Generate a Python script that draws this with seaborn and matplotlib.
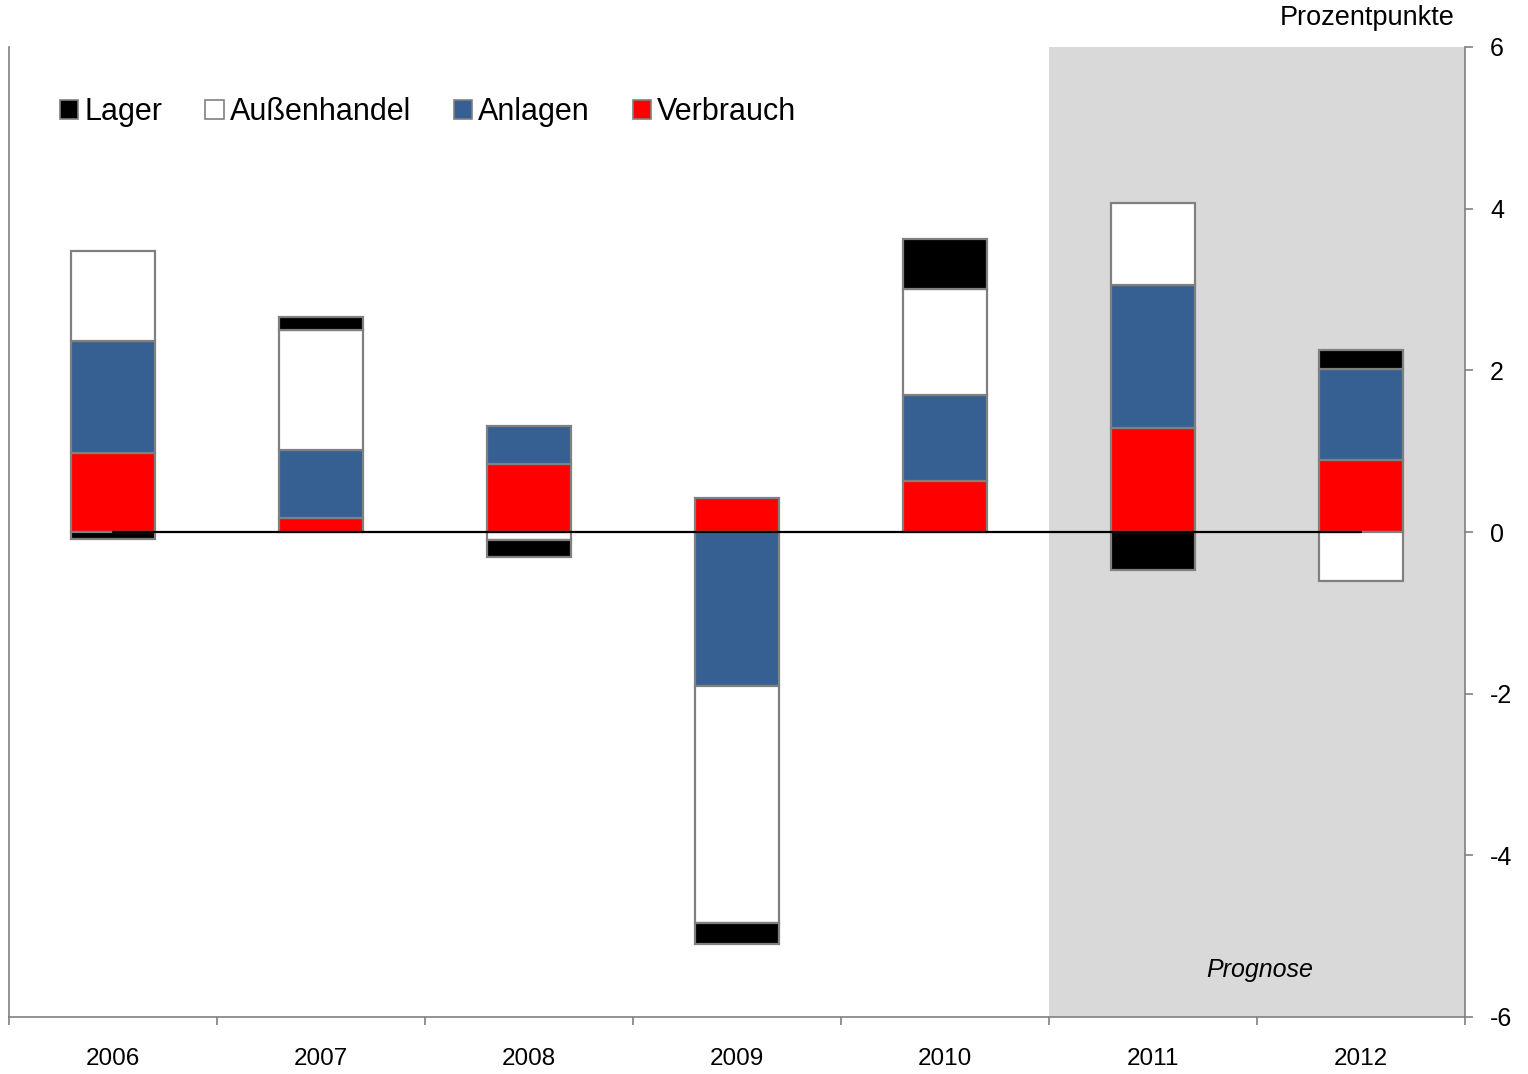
import numpy as np
import pandas as pd
import matplotlib
matplotlib.use("Agg")
import matplotlib.pyplot as plt
import seaborn as sns
from matplotlib.patches import Patch

years = ["2006", "2007", "2008", "2009", "2010", "2011", "2012"]
verbrauch = [0.98, 0.17, 0.84, 0.42, 0.63, 1.29, 0.89]
anlagen = [1.38, 0.84, 0.47, -1.91, 1.06, 1.77, 1.13]
aussenhandel = [1.12, 1.49, -0.10, -2.93, 1.32, 1.01, -0.61]
lager = [-0.09, 0.16, -0.21, -0.26, 0.62, -0.47, 0.23]

series_names = ["Verbrauch", "Anlagen", "Außenhandel", "Lager"]
series_vals = [verbrauch, anlagen, aussenhandel, lager]
colors = {"Verbrauch": "#FF0000", "Anlagen": "#366092", "Außenhandel": "#FFFFFF", "Lager": "#000000"}

yticks = [-6, -4, -2, 0, 2, 4, 6]

sns.set_theme(style="white")
plt.rcParams["font.family"] = ["Liberation Sans", "DejaVu Sans"]
plt.rcParams["text.color"] = "black"
plt.rcParams["xtick.color"] = "black"
plt.rcParams["ytick.color"] = "black"

fig = plt.figure(figsize=(15.28, 10.74), dpi=100)
ax = fig.add_axes([9 / 1528, 57 / 1074, (1465 - 9) / 1528, 970 / 1074])

ax.axvspan(4.5, 6.5, color="#D9D9D9", zorder=0, lw=0)

pos_base = np.zeros(len(years))
neg_base = np.zeros(len(years))
for name, vals in zip(series_names, series_vals):
    v = np.array(vals, dtype=float)
    bottoms = np.where(v >= 0, pos_base, neg_base)
    df = pd.DataFrame({"year": years, "val": v})
    sns.barplot(data=df, x="year", y="val", order=years, bottom=bottoms,
                color=colors[name], saturation=1, width=0.405,
                edgecolor="#808080", linewidth=1.6, ax=ax, zorder=2, errorbar=None)
    pos_base = pos_base + np.where(v >= 0, v, 0)
    neg_base = neg_base + np.where(v < 0, v, 0)

ax.plot([0, 6], [0, 0], color="black", lw=1.6, zorder=5)

ax.set_xlim(-0.5, 6.5)
ax.set_ylim(-6, 6)
ax.set_xlabel("")
ax.set_ylabel("")

ax.yaxis.tick_right()
ax.set_yticks(yticks)
ax.set_yticklabels([str(t) for t in yticks])
ax.tick_params(axis="y", which="major", right=True, left=False, direction="out",
               length=6, width=1.2, color="#808080", pad=12, labelsize=18, labelcolor="black")

ax.set_xticks(range(len(years)))
ax.set_xticklabels(years)
ax.set_xticks(np.arange(-0.5, 7.0, 1.0), minor=True)
ax.tick_params(axis="x", which="major", length=0, pad=22, labelsize=17.5, labelcolor="black")
ax.tick_params(axis="x", which="minor", bottom=True, direction="out", length=6,
               width=1.2, color="#808080")

for side in ["left", "right", "bottom"]:
    ax.spines[side].set_visible(True)
    ax.spines[side].set_color("#808080")
    ax.spines[side].set_linewidth(1.2)
ax.spines["top"].set_visible(False)

handles = [Patch(facecolor=colors[n], edgecolor="#808080", linewidth=1.2) for n in ["Lager", "Außenhandel", "Anlagen", "Verbrauch"]]
ax.legend(handles, ["Lager", "Außenhandel", "Anlagen", "Verbrauch"], ncol=4, frameon=False,
          loc="center left", bbox_to_anchor=(0.035, 0.933), fontsize=22,
          handlelength=0.6, handleheight=0.6, handletextpad=0.2, columnspacing=1.4,
          borderaxespad=0, borderpad=0)

ax.text(5.514, -5.42, "Prognose", fontsize=18, style="italic", ha="center", va="center")
fig.text(1455 / 1528, 1 - 18 / 1074, "Prozentpunkte", fontsize=19.5, ha="right", va="center")

fig.savefig("out.png", dpi=100)
